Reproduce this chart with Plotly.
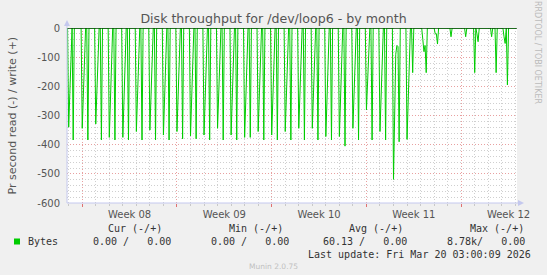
import pandas as pd
import plotly.graph_objects as go

# ---------------- data ----------------
X_START = "2026-02-14 21:00"
X_END = "2026-03-20 03:00"
SAMPLE_START = "2026-02-14 22:00"
SAMPLE_END = "2026-03-20 02:00"

# non-zero 2-hour averages of reads (negative side), bytes/s
read_times = [
    "2026-02-15 00:00", "2026-02-15 02:00", "2026-02-15 04:00", "2026-02-15 08:00",
    "2026-02-16 00:00", "2026-02-16 02:00", "2026-02-16 04:00", "2026-02-16 10:00",
    "2026-02-17 00:00", "2026-02-17 02:00", "2026-02-17 04:00", "2026-02-17 10:00",
    "2026-02-18 00:00", "2026-02-18 02:00", "2026-02-18 04:00", "2026-02-18 10:00",
    "2026-02-19 00:00", "2026-02-19 02:00", "2026-02-19 04:00", "2026-02-19 10:00",
    "2026-02-20 00:00", "2026-02-20 02:00", "2026-02-20 04:00", "2026-02-20 10:00",
    "2026-02-21 00:00", "2026-02-21 02:00", "2026-02-21 04:00", "2026-02-21 10:00",
    "2026-02-22 00:00", "2026-02-22 02:00", "2026-02-22 04:00", "2026-02-22 10:00",
    "2026-02-23 00:00", "2026-02-23 02:00", "2026-02-23 04:00", "2026-02-23 10:00",
    "2026-02-24 00:00", "2026-02-24 02:00", "2026-02-24 04:00", "2026-02-24 10:00",
    "2026-02-25 00:00", "2026-02-25 02:00", "2026-02-25 04:00", "2026-02-25 10:00",
    "2026-02-26 00:00", "2026-02-26 02:00", "2026-02-26 04:00", "2026-02-26 10:00",
    "2026-02-27 00:00", "2026-02-27 02:00", "2026-02-27 04:00", "2026-02-27 10:00",
    "2026-02-28 00:00", "2026-02-28 02:00", "2026-02-28 04:00", "2026-02-28 10:00",
    "2026-03-01 00:00", "2026-03-01 02:00", "2026-03-01 04:00", "2026-03-01 10:00",
    "2026-03-02 00:00", "2026-03-02 02:00", "2026-03-02 04:00", "2026-03-02 10:00",
    "2026-03-03 00:00", "2026-03-03 02:00", "2026-03-03 04:00", "2026-03-03 10:00",
    "2026-03-04 00:00", "2026-03-04 02:00", "2026-03-04 04:00", "2026-03-04 10:00",
    "2026-03-05 00:00", "2026-03-05 02:00", "2026-03-05 04:00", "2026-03-05 10:00",
    "2026-03-06 00:00", "2026-03-06 02:00", "2026-03-06 04:00", "2026-03-06 10:00",
    "2026-03-07 00:00", "2026-03-07 02:00", "2026-03-07 04:00", "2026-03-07 10:00",
    "2026-03-08 00:00", "2026-03-08 02:00", "2026-03-08 04:00", "2026-03-08 10:00",
    "2026-03-09 00:00", "2026-03-09 02:00", "2026-03-09 04:00", "2026-03-09 10:00",
    "2026-03-10 00:00", "2026-03-10 02:00", "2026-03-10 04:00", "2026-03-10 10:00",
    "2026-03-11 00:00", "2026-03-11 02:00", "2026-03-11 04:00", "2026-03-11 06:00",
    "2026-03-11 08:00", "2026-03-11 10:00",
    "2026-03-12 00:00", "2026-03-12 02:00", "2026-03-12 04:00", "2026-03-12 10:00",
    "2026-03-13 04:00", "2026-03-13 06:00", "2026-03-13 08:00", "2026-03-13 10:00",
    "2026-03-14 02:00", "2026-03-14 04:00", "2026-03-14 06:00",
    "2026-03-15 06:00",
    "2026-03-16 08:00",
    "2026-03-17 00:00", "2026-03-17 04:00", "2026-03-17 06:00",
    "2026-03-18 06:00", "2026-03-18 14:00",
    "2026-03-19 04:00", "2026-03-19 06:00", "2026-03-19 10:00",
]
read_values = [
    -340, -225, -108, -384,
    -344, -227, -110, -384,
    -329, -217, -105, -384,
    -375, -248, -120, -384,
    -375, -248, -120, -384,
    -355, -234, -114, -384,
    -350, -231, -112, -384,
    -367, -242, -117, -384,
    -355, -234, -114, -380,
    -370, -244, -118, -380,
    -367, -242, -117, -384,
    -344, -227, -110, -384,
    -367, -242, -117, -384,
    -375, -248, -120, -375,
    -355, -234, -114, -384,
    -367, -242, -117, -384,
    -355, -234, -114, -384,
    -344, -227, -110, -384,
    -344, -227, -110, -384,
    -372, -246, -119, -384,
    -372, -246, -119, -405,
    -344, -227, -110, -384,
    -281, -185, -90, -384,
    -355, -234, -114, -384,
    -519, -280, -90, -60,
    -64, -390,
    -382, -252, -122, -153,
    -40, -81, -60, -153,
    -20, -20, -55,
    -30,
    -30,
    -153, -20, -47,
    -30, -153,
    -30, -53, -195,
]
write_value = 0.0  # writes are zero for the whole period

week_starts = ["2026-02-16", "2026-02-23", "2026-03-02", "2026-03-09", "2026-03-16"]
week_label_pos = ["2026-02-19 12:00", "2026-02-26 12:00", "2026-03-05 12:00",
                  "2026-03-12 12:00", "2026-03-19 12:00"]
week_labels = ["Week 08", "Week 09", "Week 10", "Week 11", "Week 12"]
y_ticks = [0, -100, -200, -300, -400, -500, -600]

legend_name = "Bytes"
stat_headers = ["Cur (-/+)", "Min (-/+)", "Avg (-/+)", "Max (-/+)"]
stat_values = ["0.00 /   0.00", "0.00 /   0.00", "60.13 /   0.00", "8.78k/   0.00"]
last_update = "Last update: Fri Mar 20 03:00:09 2026"

# ---------------- build series ----------------
grid = pd.date_range(SAMPLE_START, SAMPLE_END, freq="2h")
read = pd.Series(0.0, index=grid)
read.loc[pd.to_datetime(read_times)] = read_values
write = pd.Series(write_value, index=grid)

GREEN = "#00cc00"
MAJOR = "#e8a0a0"
MINOR = "#cfcfcf"
AXIS = "#c4c8ee"
DOTS = "1px,2px"

L, R, T, B = 67, 517, 28, 203
W, H = 547, 275


def px_x(px):
    return (px - L) / (R - L)


def px_y(py):
    return (B - py) / (B - T)


fig = go.Figure()
fig.add_trace(go.Scatter(x=read.index, y=read.values, mode="lines",
                         line=dict(color=GREEN, width=1), name="read",
                         xaxis="x", yaxis="y", hoverinfo="skip"))
fig.add_trace(go.Scatter(x=write.index, y=write.values, mode="lines",
                         line=dict(color=GREEN, width=1), name="write",
                         xaxis="x2", yaxis="y", hoverinfo="skip"))

fig.update_layout(
    width=W, height=H,
    margin=dict(l=L, r=W - R, t=T, b=H - B, pad=0),
    paper_bgcolor="#f0f0f0", plot_bgcolor="#ffffff",
    showlegend=False,
    font=dict(family="DejaVu Sans", size=10, color="#555555"),
    title=dict(text="Disk throughput for /dev/loop6 - by month",
               x=0.5, xref="container", xanchor="center",
               y=1 - 19 / H, yref="container", yanchor="middle",
               font=dict(family="DejaVu Sans", size=12.6, color="#555555")),
    xaxis=dict(type="date", range=[X_START, X_END], automargin=False,
               tickmode="array", tickvals=week_starts, showticklabels=False,
               ticks="outside", ticklen=3, tickcolor="#e07070", tickwidth=1,
               showgrid=True, gridcolor=MAJOR, griddash=DOTS, gridwidth=1,
               minor=dict(dtick=86400000, tick0="2026-02-16", showgrid=True,
                          gridcolor=MINOR, griddash=DOTS, ticks="outside",
                          ticklen=2, tickcolor="#c8c8c8"),
               showline=False, zeroline=False, fixedrange=True),
    xaxis2=dict(type="date", range=[X_START, X_END], overlaying="x", anchor="y",
                side="bottom", automargin=False,
                tickmode="array", tickvals=week_label_pos, ticktext=week_labels,
                ticks="", showgrid=False, showline=False, zeroline=False,
                ticklabelstandoff=4,
                tickfont=dict(family="DejaVu Sans", size=10, color="#555555")),
    yaxis=dict(range=[-600, 0], automargin=False,
               tickmode="array", tickvals=y_ticks, ticktext=[str(v) for v in y_ticks],
               ticks="", ticklabelstandoff=6,
               showgrid=True, gridcolor=MAJOR, griddash=DOTS, gridwidth=1,
               minor=dict(dtick=20, tick0=0, showgrid=True, gridcolor=MINOR, griddash=DOTS),
               showline=False, zeroline=False,
               tickfont=dict(family="DejaVu Sans", size=10, color="#555555")),
)

shapes = [
    # zero rule
    dict(type="line", xref="x", yref="y", x0=X_START, x1=X_END, y0=0, y1=0,
         line=dict(color="#000000", width=1), layer="above"),
    # axes
    dict(type="line", xref="paper", yref="paper", x0=0, x1=0, y0=0, y1=px_y(24),
         line=dict(color=AXIS, width=1), layer="above"),
    dict(type="line", xref="paper", yref="paper", x0=0, x1=px_x(521), y0=0, y1=0,
         line=dict(color=AXIS, width=1), layer="above"),
    dict(type="path", xref="paper", yref="paper",
         path=f"M {px_x(64)} {px_y(26)} L {px_x(70)} {px_y(26)} L {px_x(67)} {px_y(20)} Z",
         fillcolor=AXIS, line=dict(width=0), layer="above"),
    dict(type="path", xref="paper", yref="paper",
         path=f"M {px_x(518)} {px_y(200)} L {px_x(518)} {px_y(206)} L {px_x(524)} {px_y(203)} Z",
         fillcolor=AXIS, line=dict(width=0), layer="above"),
    # legend swatch
    dict(type="rect", xref="paper", yref="paper",
         x0=px_x(14), x1=px_x(20), y0=px_y(244.5), y1=px_y(238.5),
         fillcolor=GREEN, line=dict(width=0)),
]
fig.update_layout(shapes=shapes)

MONO = dict(family="DejaVu Sans Mono", size=10, color="#333333")


def ann(text, px, py, xanchor="left", font=MONO, angle=0):
    return dict(text=text.replace(" ", "\u00a0"), xref="paper", yref="paper",
                x=px_x(px), y=px_y(py), xanchor=xanchor, yanchor="middle",
                showarrow=False, font=font, textangle=angle)


annotations = [
    dict(text="Pr second read (-) / write (+)", xref="paper", yref="paper",
         x=px_x(12), y=px_y(115.5), xanchor="center", yanchor="middle",
         showarrow=False, textangle=-90,
         font=dict(family="DejaVu Sans", size=11, color="#555555")),
    dict(text="RRDTOOL / TOBI OETIKER", xref="paper", yref="paper",
         x=px_x(538), y=px_y(52), xanchor="center", yanchor="middle",
         showarrow=False, textangle=90,
         font=dict(family="DejaVu Sans", size=8, color="#bbbbbb")),
    dict(text="Munin 2.0.75", xref="paper", yref="paper",
         x=px_x(273), y=px_y(266), xanchor="center", yanchor="middle",
         showarrow=False, font=dict(family="DejaVu Sans", size=7.5, color="#c0c0c0")),
    ann(legend_name, 26, 241.5),
    ann(last_update, 533, 254, xanchor="right"),
]
header_right = [164, 285, 405, 526]
value_right = [173, 291, 409, 527]
for txt, xr in zip(stat_headers, header_right):
    annotations.append(ann(txt, xr, 228.6, xanchor="right"))
for txt, xr in zip(stat_values, value_right):
    annotations.append(ann(txt, xr, 241.5, xanchor="right"))
fig.update_layout(annotations=annotations)

fig.write_html("out.html")
